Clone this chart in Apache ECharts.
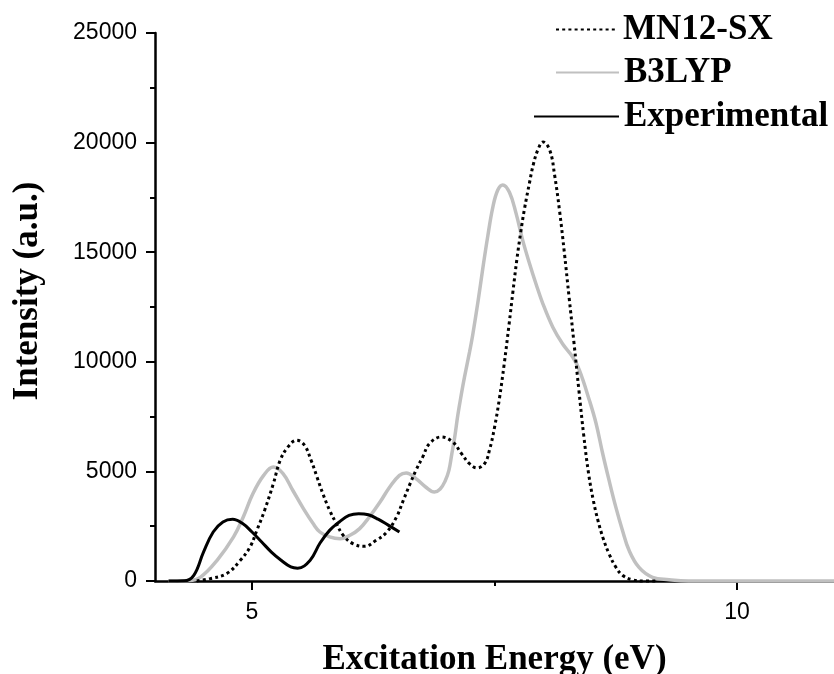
<!DOCTYPE html>
<html>
<head>
<meta charset="utf-8">
<script src="https://cdn.jsdelivr.net/npm/echarts@6/dist/echarts.min.js"></script>
<style>
  html, body { margin: 0; padding: 0; background: #fff; }
  #chart { width: 834px; height: 674px; }
</style>
</head>
<body>
<div id="chart"></div>
<script>
// [energy (eV), intensity]
var mn12sx = [
    [4.43, 0], [4.57, 110], [4.74, 340], [4.88, 945], [4.98, 1550], [5.05, 2310],
    [5.13, 3225], [5.22, 4440], [5.29, 5500], [5.37, 6110], [5.46, 6420], [5.54, 6200],
    [5.61, 5500], [5.67, 4745], [5.73, 3990], [5.80, 3225], [5.87, 2620], [5.94, 2085],
    [6.04, 1705], [6.16, 1580], [6.28, 1855], [6.39, 2235], [6.49, 2920], [6.56, 3680],
    [6.63, 4440], [6.69, 5050], [6.76, 5660], [6.83, 6270], [6.95, 6570], [7.07, 6340],
    [7.16, 5810], [7.24, 5360], [7.32, 5160], [7.40, 5370], [7.45, 6000], [7.50, 7000],
    [7.55, 8300], [7.60, 9900], [7.65, 11700], [7.69, 13200], [7.73, 14650], [7.77, 15900],
    [7.81, 17000], [7.86, 18150], [7.90, 19000], [7.95, 19700], [8.00, 20030], [8.07, 19650],
    [8.12, 18510], [8.17, 16910], [8.22, 14990], [8.27, 12900], [8.32, 10840], [8.37, 8700],
    [8.42, 6640], [8.47, 4900], [8.52, 3650], [8.57, 2700], [8.62, 1950], [8.68, 1250],
    [8.75, 640], [8.82, 260], [8.92, 60], [9.04, 0], [9.17, 0]
]
var b3lyp = [
    [4.14, 0], [4.35, 20], [4.47, 180], [4.64, 945], [4.81, 2010], [4.91, 2920],
    [5.01, 3990], [5.12, 4820], [5.22, 5200], [5.32, 4900], [5.42, 4140], [5.53, 3300],
    [5.63, 2620], [5.70, 2235], [5.80, 2010], [5.91, 1930], [6.01, 2085], [6.11, 2390],
    [6.21, 2920], [6.32, 3600], [6.42, 4290], [6.52, 4820], [6.59, 4930], [6.69, 4670],
    [6.79, 4290], [6.88, 4060], [6.94, 4200], [6.99, 4550], [7.03, 5050], [7.06, 5800],
    [7.09, 6570], [7.122, 7570], [7.157, 8490], [7.191, 9310], [7.243, 10450], [7.277, 11270],
    [7.328, 12690], [7.38, 14280], [7.431, 15740], [7.483, 17060], [7.534, 17840], [7.585, 18070],
    [7.654, 17730], [7.723, 16760], [7.791, 15540], [7.86, 14500], [7.929, 13540], [7.997, 12670],
    [8.10, 11590], [8.203, 10810], [8.306, 10220], [8.374, 9630], [8.477, 8260], [8.546, 7210],
    [8.614, 5840], [8.68, 4610], [8.75, 3380], [8.818, 2330], [8.887, 1400], [8.99, 620],
    [9.129, 170], [9.30, 60], [9.5, 0], [11, 0]
]
var experimental = [
    [4.14, 0], [4.3, 10], [4.4, 260], [4.5, 1320], [4.6, 2235], [4.7, 2690], [4.8, 2815],
    [4.9, 2630], [5.0, 2235], [5.1, 1780], [5.2, 1320], [5.3, 945], [5.4, 640], [5.47, 580],
    [5.6, 950], [5.7, 1720], [5.8, 2310], [5.9, 2690], [6.0, 2990], [6.1, 3070],
    [6.2, 3020], [6.3, 2820], [6.4, 2560], [6.52, 2235]
]
var xLabels = [5, 10]
var xMinor = [7.5]

var serif = '"Liberation Serif", "Times New Roman", serif'
var sans = '"Liberation Sans", Arial, sans-serif'

var chart = echarts.init(document.getElementById('chart'))

var legendText = { fontFamily: serif, fontWeight: 'bold', fontSize: 35, color: '#000' }
var noSymbol = { opacity: 0, borderWidth: 0 }

var option = {
    animation: false,
    backgroundColor: '#fff',
    grid: { left: 155, right: 0, top: 33, bottom: 93, outerBoundsMode: 'none' },
    legend: [
        { data: ['MN12-SX'], left: 550, top: 7, itemWidth: 62, itemHeight: 10, itemStyle: noSymbol, textStyle: legendText },
        { data: ['B3LYP'], left: 550, top: 50, itemWidth: 63, itemHeight: 10, itemStyle: noSymbol, textStyle: legendText },
        { data: ['Experimental'], left: 528, top: 94, itemWidth: 85, itemHeight: 10, itemStyle: noSymbol, textStyle: legendText }
    ],
    xAxis: [
        {
            type: 'value', min: 4, max: 11,
            name: 'Excitation Energy (eV)', nameLocation: 'middle', nameGap: 61,
            nameTextStyle: { fontFamily: serif, fontWeight: 'bold', fontSize: 35, color: '#000' },
            axisLine: { lineStyle: { color: '#000', width: 2.5 } },
            axisTick: { customValues: xLabels, length: 9, lineStyle: { color: '#000', width: 2 } },
            axisLabel: { customValues: xLabels, margin: 20, fontFamily: sans, fontSize: 23, color: '#000' },
            splitLine: { show: false }
        },
        {
            type: 'value', min: 4, max: 11, position: 'bottom',
            axisLine: { show: false },
            axisTick: { customValues: xMinor, length: 5, lineStyle: { color: '#000', width: 2 } },
            axisLabel: { show: false },
            splitLine: { show: false }
        }
    ],
    yAxis: {
        type: 'value', min: 0, max: 25000, interval: 5000,
        axisLine: { show: true, lineStyle: { color: '#000', width: 2.5 } },
        axisTick: { show: true, length: 9, lineStyle: { color: '#000', width: 2 } },
        minorTick: { show: true, splitNumber: 2, length: 5, lineStyle: { color: '#000', width: 2 } },
        axisLabel: {
            margin: 18, fontFamily: sans, fontSize: 23, color: '#000',
            formatter: function (v) { return String(v) }
        },
        splitLine: { show: false }
    },
    graphic: [
        {
            type: 'text', x: 28, y: 291, rotation: Math.PI / 2,
            style: {
                text: 'Intensity (a.u.)', fill: '#000', align: 'center', verticalAlign: 'middle',
                font: 'bold 35px ' + serif
            }
        }
    ],
    series: [
        {
            name: 'B3LYP', type: 'line', data: b3lyp, smooth: 0.4, symbol: 'none', clip: false,
            lineStyle: { color: '#c0c0c0', width: 3.5 }, itemStyle: { color: '#c0c0c0' }
        },
        {
            name: 'MN12-SX', type: 'line', data: mn12sx, smooth: 0.4, symbol: 'none', clip: false,
            lineStyle: { color: '#000', width: 3, type: [3, 3.2] }, itemStyle: { color: '#000' }
        },
        {
            name: 'Experimental', type: 'line', data: experimental, smooth: 0.4, symbol: 'none', clip: false,
            lineStyle: { color: '#000', width: 3 }, itemStyle: { color: '#000' }
        }
    ]
}
chart.setOption(option)
</script>
</body>
</html>
